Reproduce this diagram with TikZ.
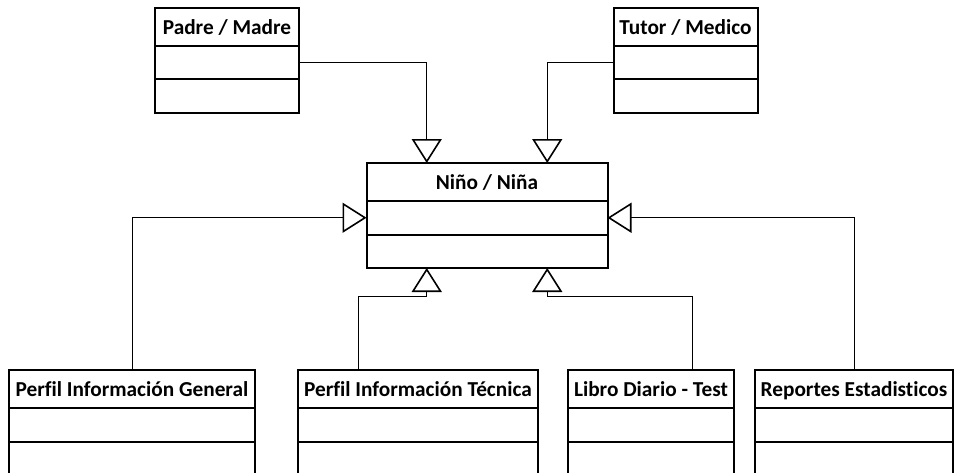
\documentclass[tikz,border=0pt]{standalone}
\usepackage{fontspec}
\setmainfont{Carlito}[Ligatures={NoCommon}]
\usetikzlibrary{arrows.meta}
\usetikzlibrary{positioning}
\usetikzlibrary{calc}
\tikzset{
    classhead/.style={draw, line width=2pt, minimum height=38pt, inner sep=0pt,
        outer sep=0pt, text height=15.6pt, text depth=0pt,
        font=\bfseries\fontsize{21.3}{25}\selectfont},
    classpart/.style={draw, line width=2pt, minimum height=33.5pt, inner sep=0pt,
        outer sep=0pt},
    inherit/.style={line width=1pt,
        -{Triangle[open, length=24pt, width=30pt, line width=1.6pt]}}
}
% name, center, width, title
\newcommand\umlclass[4]{%
    \node[classhead, minimum width=#3] (#1) at #2 {#4};
    \node[classpart, minimum width=#3, below=0pt of #1] (#1A) {};
    \node[classpart, minimum width=#3, below=0pt of #1A] (#1B) {};
}

\begin{document}
\begin{tikzpicture}[x=1pt, y=-1pt]

    \useasboundingbox (0,0) rectangle (954,472);
    \clip (0,0) rectangle (954,472);

    % top row
    \umlclass{padre}{(227,26.5)}{144pt}{Padre / Madre}
    \umlclass{tutor}{(685.5,26.5)}{144pt}{Tutor / Medico}

    % middle
    \umlclass{nino}{(487,182)}{241pt}{Niño / Niña}

    % bottom row
    \umlclass{gen}{(132,389)}{246pt}{Perfil Información General}
    \umlclass{tec}{(418,389)}{240pt}{Perfil Información Técnica}
    \umlclass{libro}{(651,389)}{166pt}{Libro Diario - Test}
    \umlclass{rep}{(854,389)}{198pt}{Reportes Estadisticos}

    \coordinate (ninoUp1) at ($(nino.north west)!0.25!(nino.north east)$);
    \coordinate (ninoUp2) at ($(nino.north west)!0.75!(nino.north east)$);
    \coordinate (ninoLow1) at ($(ninoB.south west)!0.25!(ninoB.south east)$);
    \coordinate (ninoLow2) at ($(ninoB.south west)!0.75!(ninoB.south east)$);
    \coordinate (tecUp) at ($(tec.north west)!0.25!(tec.north east)$);
    \coordinate (libroUp) at ($(libro.north west)!0.75!(libro.north east)$);
    \coordinate (bend) at (0,296);

    \draw[inherit] (padreA.east) -| (ninoUp1);
    \draw[inherit] (tutorA.west) -| (ninoUp2);

    \draw[inherit] (gen.north) |- (ninoA.west);
    \draw[inherit] (rep.north) |- (ninoA.east);

    \draw[inherit] (tecUp) -- (tecUp |- bend) -| (ninoLow1);
    \draw[inherit] (libroUp) -- (libroUp |- bend) -| (ninoLow2);

\end{tikzpicture}
\end{document}
